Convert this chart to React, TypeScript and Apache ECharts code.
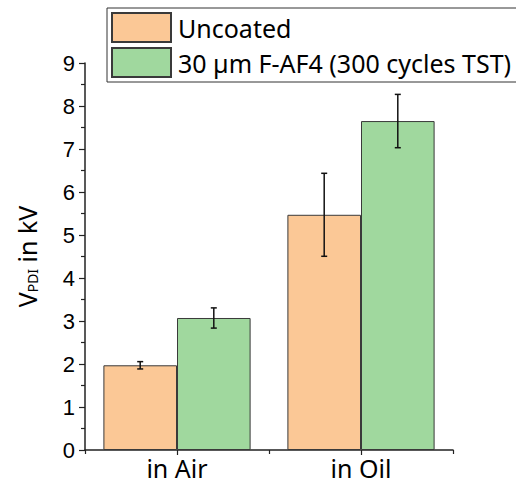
import React, { useEffect, useRef } from "react";
import * as echarts from "echarts";

const categories = ["in Air", "in Oil"];
const seriesNames = ["Uncoated", "30 µm F-AF4 (300 cycles TST)"];
const uncoatedValues = [1.97, 5.47];
const uncoatedErrors = [0.085, 0.965];
const coatedValues = [3.07, 7.65];
const coatedErrors = [0.235, 0.62];
const yTicks = [0, 1, 2, 3, 4, 5, 6, 7, 8, 9];

const ORANGE = "#FBC896";
const GREEN = "#A0D89E";
const BAR_EDGE = "#3a3a3a";
const CATEGORY_GAP = 0.2;

function errorBarSeries(values: number[], errors: number[], side: number) {
  return {
    type: "custom",
    xAxisIndex: 0,
    yAxisIndex: 0,
    silent: true,
    z: 5,
    data: values.map((v, i) => [i, v, errors[i]]),
    encode: { x: 0, y: 1 },
    renderItem: (_params: any, api: any) => {
      const cat = api.value(0);
      const val = api.value(1);
      const err = api.value(2);
      const band = api.size([1, 0])[0];
      const barW = (band * (1 - CATEGORY_GAP)) / 2;
      const cx = api.coord([cat, val])[0] + (side * barW) / 2;
      const yTop = api.coord([cat, val + err])[1];
      const yBot = api.coord([cat, val - err])[1];
      const cap = 3;
      const style = { stroke: "#111", lineWidth: 1.5 };
      return {
        type: "group",
        children: [
          { type: "line", shape: { x1: cx, y1: yTop, x2: cx, y2: yBot }, style },
          { type: "line", shape: { x1: cx - cap, y1: yTop, x2: cx + cap, y2: yTop }, style },
          { type: "line", shape: { x1: cx - cap, y1: yBot, x2: cx + cap, y2: yBot }, style },
        ],
      };
    },
  };
}

export default function App() {
  const ref = useRef<HTMLDivElement>(null);

  useEffect(() => {
    if (!ref.current) return;
    const chart = echarts.init(ref.current, null, { renderer: "svg" });
    const sansFont = "'Noto Sans', 'Open Sans', sans-serif";
    const arialFont = "'Liberation Sans', Arial, sans-serif";

    chart.setOption({
      animation: false,
      backgroundColor: "#ffffff",
      grid: { left: 85, right: 63, top: 63, bottom: 34, containLabel: false },
      legend: {
        orient: "vertical",
        left: 107,
        top: 8,
        padding: [4, 30, 4, 4],
        itemGap: 4,
        itemWidth: 59,
        itemHeight: 29,
        borderColor: "#333",
        borderWidth: 1,
        icon: "rect",
        data: seriesNames,
        textStyle: {
          fontFamily: sansFont,
          fontSize: 25,
          color: "#000",
          padding: [0, 0, 0, 2],
        },
      },
      xAxis: [
        {
          type: "category",
          data: categories,
          position: "bottom",
          axisLine: { show: true, lineStyle: { color: "#222", width: 1.5 } },
          axisTick: { show: true, alignWithLabel: true, length: 5, lineStyle: { color: "#222", width: 1.2 } },
          axisLabel: { fontFamily: sansFont, fontSize: 25, color: "#000", margin: 5 },
        },
        {
          type: "category",
          data: categories,
          position: "bottom",
          axisLine: { show: false },
          axisTick: { show: true, length: 4, lineStyle: { color: "#222", width: 1.2 } },
          axisLabel: { show: false },
        },
      ],
      yAxis: {
        type: "value",
        min: 0,
        max: 9,
        interval: 1,
        name: "V{sub|PDI} in kV",
        nameLocation: "middle",
        nameGap: 46,
        nameTextStyle: {
          fontFamily: sansFont,
          fontSize: 25,
          color: "#000",
          rich: {
            sub: { fontFamily: sansFont, fontSize: 14, color: "#000", verticalAlign: "bottom" },
          },
        },
        axisLine: { show: true, lineStyle: { color: "#222", width: 1.5 } },
        axisTick: { show: true, length: 6, lineStyle: { color: "#222", width: 1.2 } },
        minorTick: { show: true, splitNumber: 2, length: 4, lineStyle: { color: "#222", width: 1.2 } },
        splitLine: { show: false },
        axisLabel: {
          fontFamily: arialFont,
          fontSize: 22,
          color: "#000",
          margin: 10,
          formatter: (v: number) => (yTicks.includes(v) ? String(v) : ""),
        },
      },
      series: [
        {
          name: seriesNames[0],
          type: "bar",
          data: uncoatedValues,
          barGap: "0%",
          barCategoryGap: `${CATEGORY_GAP * 100}%`,
          itemStyle: { color: ORANGE, borderColor: BAR_EDGE, borderWidth: 1 },
        },
        {
          name: seriesNames[1],
          type: "bar",
          data: coatedValues,
          barGap: "0%",
          barCategoryGap: `${CATEGORY_GAP * 100}%`,
          itemStyle: { color: GREEN, borderColor: BAR_EDGE, borderWidth: 1 },
        },
        errorBarSeries(uncoatedValues, uncoatedErrors, -1),
        errorBarSeries(coatedValues, coatedErrors, 1),
      ],
    });

    return () => chart.dispose();
  }, []);

  return (
    <div
      ref={ref}
      style={{ position: "fixed", left: 0, top: 0, width: 516, height: 484, background: "#fff" }}
    />
  );
}
